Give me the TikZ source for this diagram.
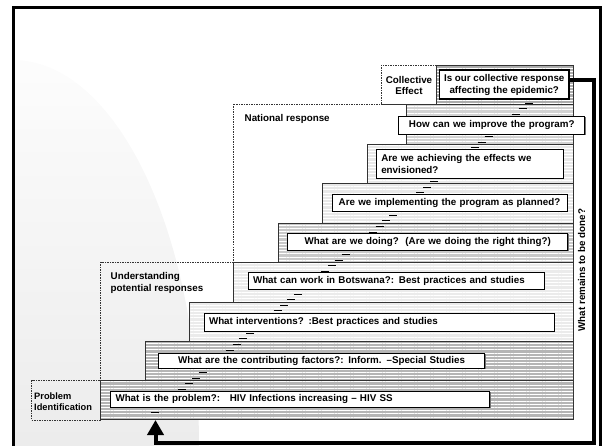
\documentclass[tikz,border=0pt]{standalone}
\usepackage{fontspec}
\setmainfont{Liberation Sans}
\usetikzlibrary{arrows.meta,patterns.meta,shadows,calc}

\tikzset{
  stepband/.style={fill=#1, postaction={pattern={Lines[angle=0,distance=3.2pt,line width=1pt]}, pattern color=white}, postaction={draw=black!80, line width=0.6pt}},
  qbox/.style={draw, line width=0.6pt, fill=white, font=\bfseries\fontsize{9.8}{12}\selectfont, inner xsep=5pt, inner ysep=1pt, drop shadow={shadow xshift=1.2pt, shadow yshift=-1.2pt, fill=black!55, opacity=1}},
  grouplabel/.style={font=\bfseries\fontsize{9.8}{11.5}\selectfont, align=left, inner sep=0pt},
  groupbox/.style={draw=black!80, line width=0.5pt, dash pattern=on 1.5pt off 1pt},
  linktick/.style={line width=1pt},
  feedback/.style={line width=4pt, -{Triangle[width=16pt,length=15pt]}},
}

\begin{document}
\begin{tikzpicture}[x=1pt, y=-1pt]
	\useasboundingbox (0,0) rectangle (602,446);
	% grey backdrop
	\begin{scope}
		\clip (13,8) rectangle (600,446);
		\shade[top color=gray!2, bottom color=gray!28] (13,446) ellipse [x radius=186, y radius=386];
	\end{scope}
	% groups
	\draw[groupbox] (31.5,380) rectangle (100.6,420);
	\draw[groupbox] (100.6,262) rectangle (233,380);
	\draw[groupbox] (233,104) rectangle (406,262);
	\draw[groupbox, fill=white] (381,65) rectangle (436,104);
	% steps
	\draw[stepband=gray!58] (100.6,380) rectangle (573,419);
	\draw[stepband=gray!58] (145,341) rectangle (573,380);
	\draw[stepband=gray!16] (189,302) rectangle (573,341);
	\draw[stepband=gray!16] (233,262) rectangle (573,302);
	\draw[stepband=gray!42] (278,223) rectangle (573,262);
	\draw[stepband=gray!18] (322,183) rectangle (573,223);
	\draw[stepband=gray!18] (367,144) rectangle (573,183);
	\draw[stepband=gray!35] (406,104) rectangle (573,144);
	\draw[stepband=gray!65] (436,65) rectangle (573,104);
	% dashed link up the stairs
	\coordinate (linkstart) at (155,412);
	\coordinate (linkend) at (533,100);
	\foreach \t in {0,0.018,...,1}
		\draw[linktick] ($(linkstart)!\t!(linkend)$) +(-4,0) -- +(4,0);
	% questions
	\node[qbox, text width=369pt, minimum height=16pt, align=left] (q1) at (300,399) {What is the problem?:\ \ \ HIV Infections increasing -- HIV SS};
	\node[qbox, text width=316pt, minimum height=15pt, align=center] (q2) at (321.5,360.5) {What are the contributing factors?: Inform. --Special Studies};
	\node[qbox, text width=340pt, minimum height=18pt, align=left] (q3) at (379,322) {What interventions? :Best practices and studies};
	\node[qbox, text width=286pt, minimum height=17pt, align=left] (q4) at (396,280.5) {What can work in Botswana?: Best practices and studies};
	\node[qbox, text width=270pt, minimum height=17pt, align=center] (q5) at (427.75,241.5) {What are we doing?\ \ (Are we doing the right thing?)};
	\node[qbox, text width=225pt, minimum height=17pt, align=center] (q6) at (449.5,202.5) {Are we implementing the program as planned?};
	\node[qbox, text width=177pt, minimum height=29pt, align=left] (q7) at (469.75,163.5) {Are we achieving the effects we\\envisioned?};
	\node[qbox, text width=176pt, minimum height=18pt, align=center] (q8) at (491.75,125) {How can we improve the program?};
	\node[qbox, line width=1.2pt, inner xsep=1pt, minimum width=129.5pt, minimum height=29pt, align=center] (q9) at (504.25,84.5) {Is our collective response\\affecting the epidemic?};
	% group labels
	\node[grouplabel, anchor=west, font=\bfseries\fontsize{9.3}{11}\selectfont] (probl) at (34,402) {Problem\\Identification};
	\node[grouplabel, anchor=west] (underl) at (110.5,283) {Understanding\\potential responses};
	\node[grouplabel, anchor=west] (natl) at (244.5,119) {National response};
	\node[grouplabel, align=center] (collectl) at (409,85.5) {Collective\\Effect};
	\node[grouplabel, rotate=90] (remainl) at (581.5,270) {What remains to be done?};
	% feedback loop
	\coordinate (loopcorner) at (594,443);
	\coordinate (feedin) at (155.5,420);
	\draw[feedback] ([yshift=4pt]q9.east) -| (loopcorner) -| (feedin);
	% frame
	\draw[line width=3pt] (13.5,7.5) rectangle (600.5,449);
\end{tikzpicture}
\end{document}
